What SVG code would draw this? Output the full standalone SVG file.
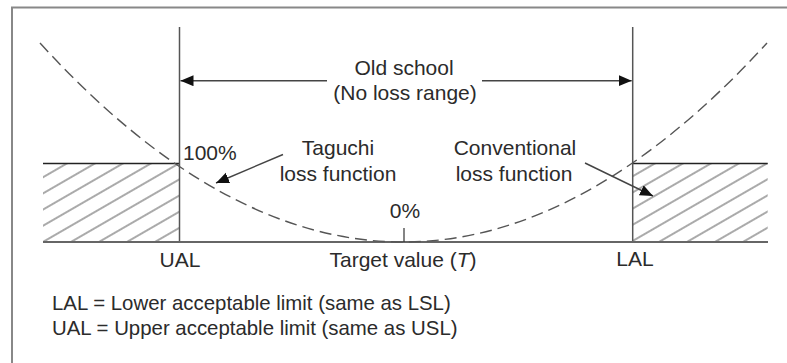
<svg xmlns="http://www.w3.org/2000/svg" width="787" height="363" viewBox="0 0 787 363">
<style>
text{font-family:"Liberation Sans",Arial,sans-serif;fill:#2b2b2b;font-size:21px}
.leg{font-size:20.4px}
.v{stroke:#555;stroke-width:1.5;fill:none}
.ar{stroke:#444;stroke-width:1.4;fill:none}
.dash{stroke:#555;stroke-width:1.4;fill:none;stroke-dasharray:12 6}
</style>
<defs>
<pattern id="hatch" patternUnits="userSpaceOnUse" width="14" height="14" patternTransform="rotate(-30)">
<line x1="0" y1="7" x2="14" y2="7" stroke="#555" stroke-width="1"/>
</pattern>
<marker id="ah" markerUnits="userSpaceOnUse" markerWidth="14" markerHeight="12" refX="13" refY="5.5" orient="auto">
<path d="M0,0 L13,5.5 L0,11 z" fill="#111"/>
</marker>
</defs>
<g id="frame">
<line x1="11" y1="7.5" x2="787" y2="7.5" stroke="#888" stroke-width="2"/>
<line x1="12" y1="7" x2="12" y2="363" stroke="#888" stroke-width="2"/>
</g>
<g id="ual-region">
<rect x="43" y="163" width="136.5" height="79" fill="url(#hatch)"/>
<line x1="43" y1="163.5" x2="179.5" y2="163.5" stroke="#222" stroke-width="1.3"/>
</g>
<g id="lal-region">
<rect x="632.7" y="163" width="135" height="79" fill="url(#hatch)"/>
<line x1="632.7" y1="163.5" x2="767.7" y2="163.5" stroke="#222" stroke-width="1.3"/>
</g>
<g id="axes">
<line class="v" x1="179.5" y1="27" x2="179.5" y2="242"/>
<line class="v" x1="632.7" y1="27" x2="632.7" y2="242"/>
<line x1="43" y1="242" x2="768" y2="242" stroke="#666" stroke-width="2"/>
<line x1="404" y1="228" x2="404" y2="242" stroke="#333" stroke-width="1.2"/>
</g>
<g id="taguchi-curve">
<path class="dash" d="M40,43 Q403,441 767,43"/>
</g>
<g id="connectors">
<line class="ar" x1="327" y1="80.7" x2="180.5" y2="80.7" marker-end="url(#ah)"/>
<line class="ar" x1="482" y1="80.7" x2="631.7" y2="80.7" marker-end="url(#ah)"/>
<line class="ar" x1="283" y1="154.5" x2="216" y2="183" marker-end="url(#ah)"/>
<line class="ar" x1="585" y1="163" x2="653" y2="196" marker-end="url(#ah)"/>
</g>
<g id="labels">
<text x="404" y="75" text-anchor="middle">Old school</text>
<text x="405" y="100" text-anchor="middle">(No loss range)</text>
<text x="183" y="160">100%</text>
<text x="338" y="155" text-anchor="middle">Taguchi</text>
<text x="338" y="181" text-anchor="middle">loss function</text>
<text x="515" y="155" text-anchor="middle">Conventional</text>
<text x="514" y="181" text-anchor="middle">loss function</text>
<text x="405" y="218" text-anchor="middle">0%</text>
<text x="180" y="267" text-anchor="middle">UAL</text>
<text x="403" y="267" text-anchor="middle">Target value (<tspan font-style="italic">T</tspan>)</text>
<text x="635" y="266" text-anchor="middle">LAL</text>
<text class="leg" x="52" y="310">LAL = Lower acceptable limit (same as LSL)</text>
<text class="leg" x="52" y="335">UAL = Upper acceptable limit (same as USL)</text>
</g>
</svg>
